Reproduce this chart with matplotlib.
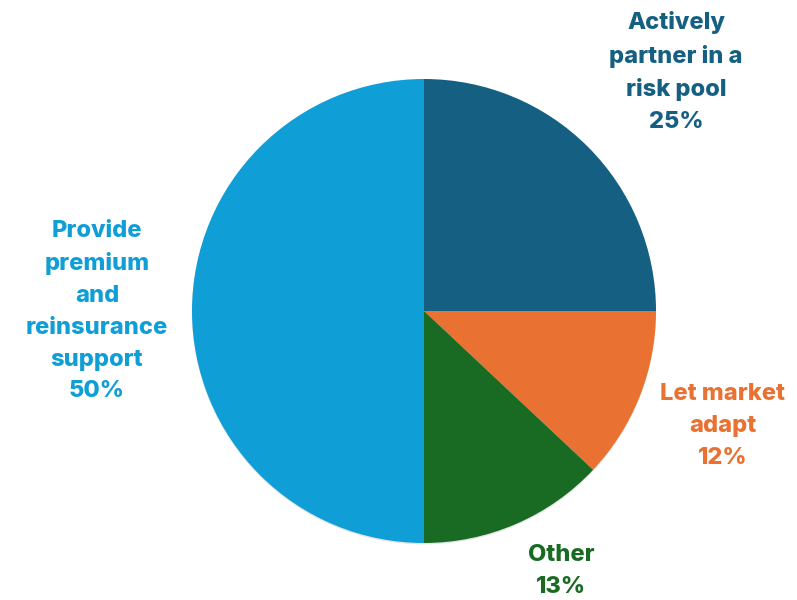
import matplotlib.pyplot as plt
import matplotlib.patheffects as pe

labels = ["Actively\npartner in a\nrisk pool", "Let market\nadapt", "Other",
          "Provide\npremium\nand\nreinsurance\nsupport"]
shares = [25, 12, 13, 50]
colors = ["#156082", "#E97132", "#196B24", "#0F9ED5"]
# label anchor (x, y) in figure pixels, measured from the top-left
label_pos = [(676, 72), (723, 426), (561, 571), (97, 311)]

plt.rcParams['font.family'] = ['Inter', 'DejaVu Sans']

fig = plt.figure(figsize=(7.97, 6.0), dpi=100)
ax = fig.add_axes([0, 0, 1, 1])

wedges, _ = ax.pie(shares, colors=colors, startangle=90, counterclock=False,
                   center=(424, 289), radius=232, frame=True,
                   wedgeprops=dict(linewidth=0))
for w in wedges:
    w.set_path_effects([pe.SimplePatchShadow(offset=(0, -1), shadow_rgbFace='#999999', alpha=0.25),
                        pe.Normal()])
ax.set_xlim(0, 797)
ax.set_ylim(0, 600)
ax.set_aspect('equal')
ax.axis('off')

for lab, val, col, (x, y) in zip(labels, shares, colors, label_pos):
    ax.text(x, 600 - y, f"{lab}\n{val}%", color=col, fontsize=17, fontweight='heavy',
            ha='center', va='center', linespacing=1.58)

fig.savefig("out.png", dpi=100)
